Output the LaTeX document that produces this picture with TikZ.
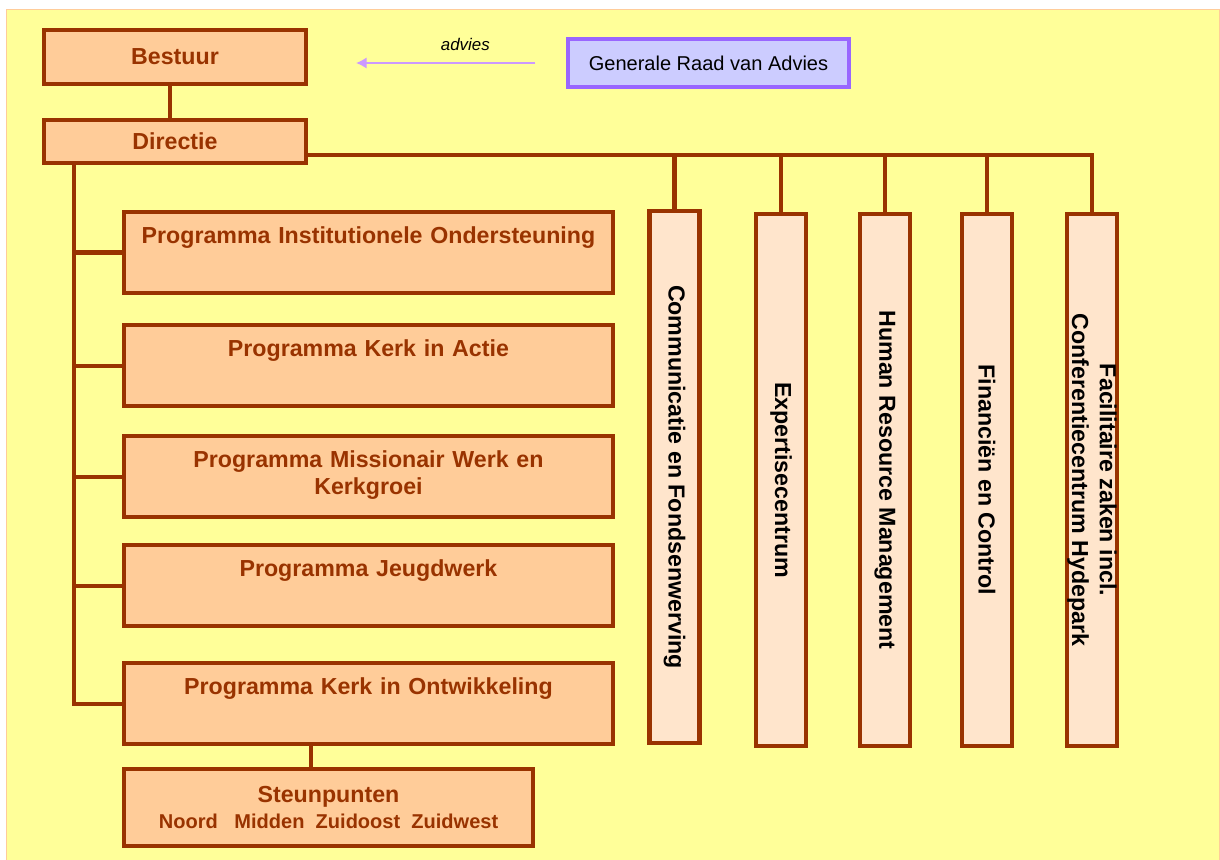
\documentclass[tikz,border=0pt]{standalone}
\usepackage{fontspec}
\setmainfont{Liberation Sans}
\usetikzlibrary{arrows.meta,calc,positioning}
\definecolor{brn}{HTML}{993300}
\definecolor{peach}{HTML}{FFCC99}
\definecolor{lpeach}{HTML}{FFE5CC}
\definecolor{bgyel}{HTML}{FFFF99}
\definecolor{bgline}{HTML}{FFCC99}
\definecolor{lila}{HTML}{CC99FF}
\definecolor{paars}{HTML}{9966FF}
\definecolor{lblauw}{HTML}{CCCCFF}
\tikzset{
    auto,node distance =0.6 cm and 1 cm,
    box/.style ={rectangle, draw=brn, line width=2.3pt, fill=peach, text=brn,
        font=\fontsize{13.2}{15.8}\selectfont\bfseries},
    kop/.style ={box, minimum width=5.24cm, inner sep=0pt},
    prog/.style ={box, text width=9.5cm, align=center, inner xsep=0.14cm,
        inner ysep=0.1cm, text height=0.52cm, text depth=0.9cm},
    staf/.style ={rectangle, draw=brn, line width=2.3pt, fill=lpeach, rotate=-90,
        minimum width=10.64cm, minimum height=1cm, inner sep=0pt, align=center,
        font=\fontsize{13.2}{15.8}\selectfont\bfseries},
    raad/.style ={rectangle, draw=paars, line width=2pt, fill=lblauw,
        minimum width=5.62cm, minimum height=0.96cm,
        font=\fontsize{11.4}{13.7}\selectfont},
    link/.style ={draw=brn, line width=2.3pt},
    advies/.style ={draw=lila, line width=1.7pt, -{Latex[length=6pt,width=6.5pt]}}
}

\begin{document}
\begin{tikzpicture}[x=0.02cm,y=-0.02cm]
    % Achtergrond
    \useasboundingbox (0,0) rectangle (1220,859);
    \fill[bgyel, draw=bgline, line width=1pt] (6.5,9.5) rectangle (1219.5,862);

    %%Nodes
    \node[kop, minimum height=1.08cm] (bst) at (175,57) {Bestuur};
    \node[kop, minimum height=0.86cm] (dir) at (175,141.5) {Directie};
    \node[raad] (gra) at (708.5,63) {Generale Raad van Advies};

    %%Programma's
    \node[prog, anchor=north west] (p1) at (122,210) {Programma Institutionele Ondersteuning};
    \node[prog] (p2) [below =0.56cm of p1] {Programma Kerk in Actie};
    \node[prog] (p3) [below =0.52cm of p2] {Programma Missionair Werk en\\Kerkgroei};
    \node[prog] (p4) [below =0.48cm of p3] {Programma Jeugdwerk};
    \node[prog] (p5) [below =0.66cm of p4] {Programma Kerk in Ontwikkeling};
    \node[box, minimum width=8.18cm, minimum height=1.54cm, inner sep=0pt, align=center] (stp) at (328.5,807.5)
        {Steunpunten\\[-1pt]{\fontsize{11.4}{13.7}\selectfont Noord~~~Midden~~Zuidoost~~Zuidwest}};

    %%Staf
    \node[staf] (s1) at (674.5,477) {Communicatie en Fondsenwerving};
    \node[staf] (s2) at (781,480) {Expertisecentrum};
    \node[staf] (s3) at (885,480) {Human Resource Management};
    \node[staf] (s4) at (987,480) {Financiën en Control};
    \node[staf] (s5) at (1092,480) {Facilitaire zaken incl.\\Conferentiecentrum Hydepark};

    % Lijnen
    \draw[link] ([xshift=-0.1cm]bst.south) -- ([xshift=-0.1cm]dir.north);

    \coordinate (stam) at ([xshift=0.64cm]dir.south west);
    \draw[link] (stam) |- (p5.west);
    \foreach \p in {p1,p2,p3,p4}
        \draw[link] (stam |- \p.west) -- (\p.west);

    \coordinate (bus) at ([yshift=0.2cm]dir.south east);
    \foreach \s in {s1,s2,s3,s4,s5}
        \draw[link] (bus) -| (\s.west);

    \coordinate (k) at ([xshift=-0.35cm]stp.north);
    \draw[link] (k) -- (k |- p5.south);

    % Advies
    \coordinate (a1) at ([xshift=-0.62cm]gra.west);
    \coordinate (a2) at ([xshift=0.96cm]bst.east);
    \draw[advies] (a1) -- (a1 -| a2)
        node[above=3pt, pos=0.39, font=\fontsize{9.6}{11}\selectfont\itshape] (adv) {advies};
\end{tikzpicture}
\end{document}
